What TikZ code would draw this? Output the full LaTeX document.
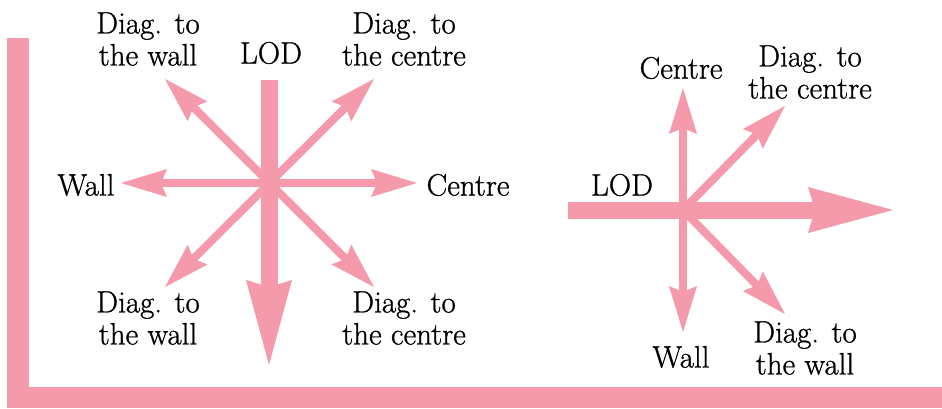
\documentclass[tikz,border=0pt]{standalone}
\usepackage{fontspec}
\setmainfont{Latin Modern Roman}[FakeBold=0.9]
\usetikzlibrary{arrows.meta}
\definecolor{lodpink}{RGB}{245,154,170}
\begin{document}
\begin{tikzpicture}[x=1pt,y=-1pt,
  lbl/.style={inner sep=0pt, align=center, font=\rmfamily\fontsize{31}{32}\selectfont},
  thinhead/.tip={Stealth[length=46pt,width=28pt,inset=6pt,line width=0pt]},
  fathead/.tip={Stealth[length=85pt,width=46pt,inset=7pt,line width=0pt]},
  onedir/.style={draw=lodpink, line width=8pt, -thinhead},
  twodir/.style={draw=lodpink, line width=8pt, thinhead-thinhead},
  lodarrow/.style={draw=lodpink, line width=17pt, -fathead}]
\useasboundingbox (0,0) rectangle (942,408);

% wall and floor edge
\fill[lodpink] (7,38) rectangle (29,408);
\fill[lodpink] (7,387) rectangle (942,408);

% --- left compass: dancer facing the line of dance ---
\coordinate (c1) at (269,183);
\coordinate (w1) at (121,183);
\coordinate (e1) at (417,183);
\coordinate (ul1) at (165,79);
\coordinate (ur1) at (374,79);
\coordinate (ll1) at (165,287);
\coordinate (lr1) at (374,287);
\coordinate (lodtop) at (269,80);
\coordinate (lodtip) at (269,365);

\draw[twodir] (w1) -- (e1);
\draw[twodir] (ul1) -- (lr1);
\draw[twodir] (ur1) -- (ll1);
\draw[lodarrow] (lodtop) -- (lodtip);

\node[lbl] (tlw) at (148,39) {Diag. to\\the wall};
\node[lbl] (tlod) at (271,53) {LOD};
\node[lbl] (tc) at (404,39) {Diag. to\\the centre};
\node[lbl] (lw) at (86,185) {Wall};
\node[lbl] (lc) at (468,185) {Centre};
\node[lbl] (blw) at (148,318) {Diag. to\\the wall};
\node[lbl] (bc) at (404,318) {Diag. to\\the centre};

% --- right compass: line of dance to the right ---
\coordinate (c2) at (683,210);
\coordinate (lodstart) at (568,210);
\coordinate (lodend) at (893,210);
\coordinate (up2) at (683,88);
\coordinate (dn2) at (683,332);
\coordinate (ur2) at (785,106);
\coordinate (lr2) at (785,314);

\draw[twodir] (up2) -- (dn2);
\draw[onedir] (c2) -- (ur2);
\draw[onedir] (c2) -- (lr2);
\draw[lodarrow] (lodstart) -- (lodend);

\node[lbl] (rc) at (681,68) {Centre};
\node[lbl] (rdc) at (810,72) {Diag. to\\the centre};
\node[lbl] (rlod) at (622,185) {LOD};
\node[lbl] (rw) at (681,357) {Wall};
\node[lbl] (rdw) at (805,348) {Diag. to\\the wall};
\end{tikzpicture}
\end{document}
